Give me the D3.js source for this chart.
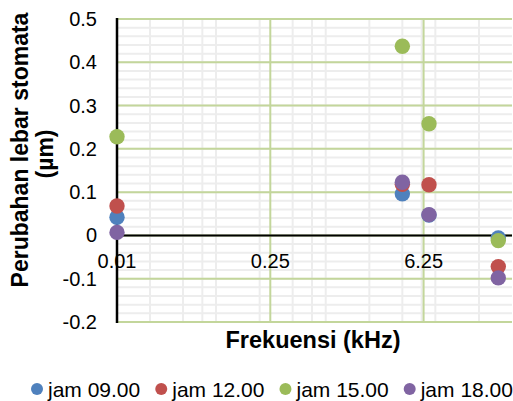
<!DOCTYPE html>
<html>
<head>
<meta charset="utf-8">
<script src="https://cdn.jsdelivr.net/npm/d3@7"></script>
<style>
  body { margin: 0; background: #fff; }
  text { font-family: "Liberation Sans", Arial, sans-serif; fill: #000; }
</style>
</head>
<body>
<div id="chart"></div>
<script>
// frequency (kHz) of each measurement
var freqs = [0.01, 4, 7, 30];

var series_names = ["jam 09.00", "jam 12.00", "jam 15.00", "jam 18.00"];
var series_colors = ["#4f81bd", "#c0504d", "#9bbb59", "#8064a2"];

var jam09 = [0.042, 0.096, 0.047, -0.006];
var jam12 = [0.068, 0.118, 0.117, -0.072];
var jam15 = [0.228, 0.437, 0.258, -0.012];
var jam18 = [0.007, 0.123, 0.048, -0.098];

var series_values = [jam09, jam12, jam15, jam18];

var x_ticks = [0.01, 0.25, 6.25];
var x_tick_labels = ["0.01", "0.25", "6.25"];
var x_minor = [0.02, 0.04, 0.06, 0.08, 0.2, 0.4, 0.6, 0.8, 2, 4, 6, 8, 20];
var y_ticks = [-0.2, -0.1, 0, 0.1, 0.2, 0.3, 0.4, 0.5];
var y_tick_labels = ["-0.2", "-0.1", "0", "0.1", "0.2", "0.3", "0.4", "0.5"];

var W = 513, H = 401;
var plot = {left: 117, right: 512, top: 19, bottom: 322};

var svg = d3.select("#chart")
    .append("svg")
    .attr("width", W)
    .attr("height", H);

var xScale = d3.scaleLog()
    .base(25)
    .domain([0.01, 40])
    .range([plot.left, plot.right]);

var yScale = d3.scaleLinear()
    .domain([-0.2, 0.5])
    .range([plot.bottom, plot.top]);

// minor gridlines
var y_minor = d3.range(-0.2, 0.5001, 0.02);
svg.append("g").selectAll("line")
    .data(y_minor)
    .enter()
    .append("line")
    .attr("x1", plot.left).attr("x2", plot.right)
    .attr("y1", function(d) { return yScale(d); })
    .attr("y2", function(d) { return yScale(d); })
    .attr("stroke", "#ededed")
    .attr("stroke-width", 2);

svg.append("g").selectAll("line")
    .data(x_minor)
    .enter()
    .append("line")
    .attr("x1", function(d) { return xScale(d); })
    .attr("x2", function(d) { return xScale(d); })
    .attr("y1", plot.top).attr("y2", plot.bottom)
    .attr("stroke", "#ededed")
    .attr("stroke-width", 2);

// major gridlines
svg.append("g").selectAll("line")
    .data(y_ticks)
    .enter()
    .append("line")
    .attr("x1", plot.left).attr("x2", plot.right)
    .attr("y1", function(d) { return yScale(d); })
    .attr("y2", function(d) { return yScale(d); })
    .attr("stroke", "#c3d69b")
    .attr("stroke-width", 2);

svg.append("g").selectAll("line")
    .data(x_ticks)
    .enter()
    .append("line")
    .attr("x1", function(d) { return xScale(d); })
    .attr("x2", function(d) { return xScale(d); })
    .attr("y1", plot.top).attr("y2", plot.bottom)
    .attr("stroke", "#c3d69b")
    .attr("stroke-width", 2);

// axes lines
svg.append("line")
    .attr("x1", plot.left).attr("x2", plot.right)
    .attr("y1", yScale(0)).attr("y2", yScale(0))
    .attr("stroke", "#000")
    .attr("stroke-width", 2);

svg.append("line")
    .attr("x1", xScale(0.01)).attr("x2", xScale(0.01))
    .attr("y1", plot.top - 1).attr("y2", plot.bottom + 1)
    .attr("stroke", "#000")
    .attr("stroke-width", 2.5);

// tick labels
svg.append("g").selectAll("text")
    .data(y_ticks)
    .enter()
    .append("text")
    .attr("x", 97)
    .attr("y", function(d) { return yScale(d) + 7; })
    .attr("text-anchor", "end")
    .style("font-size", "20px")
    .text(function(d, i) { return y_tick_labels[i]; });

svg.append("g").selectAll("text")
    .data(x_ticks)
    .enter()
    .append("text")
    .attr("x", function(d) { return xScale(d); })
    .attr("y", yScale(0) + 33)
    .attr("text-anchor", "middle")
    .style("font-size", "20px")
    .text(function(d, i) { return x_tick_labels[i]; });

// points
series_values.forEach(function(vals, s) {
    svg.append("g").selectAll("circle")
        .data(vals)
        .enter()
        .append("circle")
        .attr("cx", function(d, i) { return xScale(freqs[i]); })
        .attr("cy", function(d) { return yScale(d); })
        .attr("r", 7.7)
        .attr("fill", series_colors[s]);
});

// axis titles
svg.append("text")
    .attr("x", 313)
    .attr("y", 348)
    .attr("text-anchor", "middle")
    .style("font-size", "23.5px")
    .style("font-weight", "bold")
    .text("Frekuensi (kHz)");

svg.append("text")
    .attr("transform", "translate(28,150) rotate(-90)")
    .attr("text-anchor", "middle")
    .style("font-size", "23px")
    .style("font-weight", "bold")
    .text("Perubahan lebar stomata");

svg.append("text")
    .attr("transform", "translate(53,154) rotate(-90)")
    .attr("text-anchor", "middle")
    .style("font-size", "23px")
    .style("font-weight", "bold")
    .text("(\u00b5m)");

// legend
var legend = svg.append("g").attr("class", "legend");
var cx = 37;
series_names.forEach(function(name, s) {
    legend.append("circle")
        .attr("cx", cx)
        .attr("cy", 389)
        .attr("r", 6)
        .attr("fill", series_colors[s]);
    var t = legend.append("text")
        .attr("x", cx + 11)
        .attr("y", 397)
        .style("font-size", "21px")
        .text(name);
    cx = cx + 11 + t.node().getComputedTextLength() + 21;
});
</script>
</body>
</html>
